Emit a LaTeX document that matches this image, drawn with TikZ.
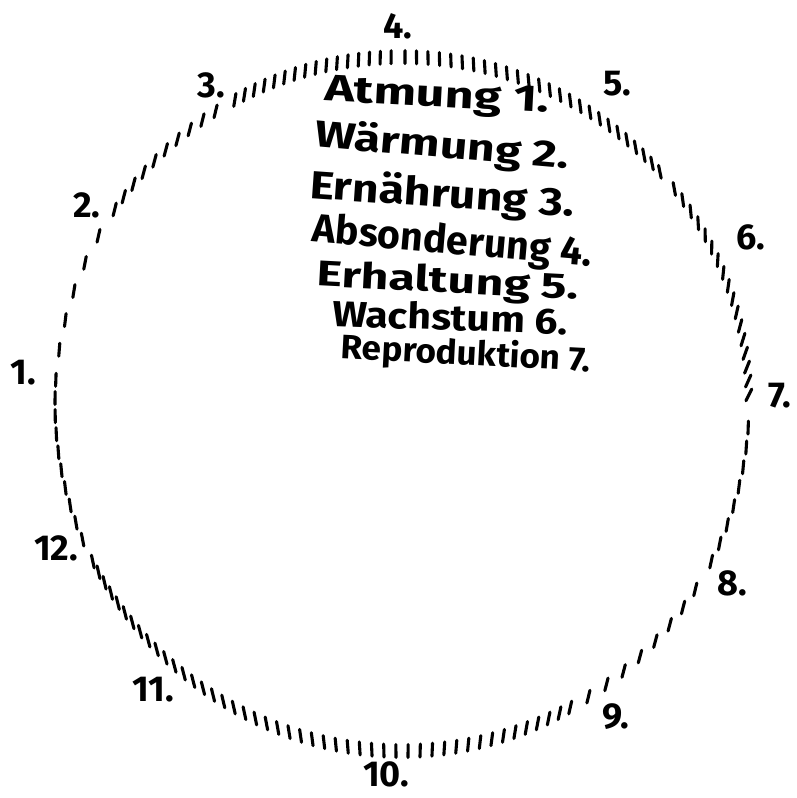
\documentclass[tikz,border=0pt]{standalone}
\usepackage{fontspec}
\usepackage{graphicx}
\setmainfont{Fira Sans}
% #1: list of angles, #2: stroke direction as a function of \a
\newcommand{\hatcharc}[2]{%
  \foreach \a in {#1} {%
    \pgfmathsetmacro\dd{#2}%
    \draw[tick] ({402+347*cos(\a)+6.5*cos(\dd)},{404-347*sin(\a)-6.5*sin(\dd)})
             -- ({402+347*cos(\a)-6.5*cos(\dd)},{404-347*sin(\a)+6.5*sin(\dd)});
  }}
\begin{document}
\begin{tikzpicture}[x=1pt,y=-1pt,
  tick/.style={line width=3.1pt,line cap=round,black},
  numlabel/.style={inner sep=0pt,font=\fontsize{36}{38}\selectfont\bfseries},
  listline/.style={inner sep=0pt,font=\bfseries}]
\path[use as bounding box] (0,0) rectangle (796,798);
% hatched circle, drawn as short strokes
\hatcharc{1.5,3.8,...,40}{\a+62}
\hatcharc{42,43.9,...,90}{102-12*(\a-40)/50}
\hatcharc{91.8,93.6,...,120}{90-10*(\a-90)/30}
\hatcharc{122.5,125.1,...,148}{90+15*sin(2*\a)}
\hatcharc{151,156,...,176}{90+15*sin(2*\a)}
\hatcharc{179,182,...,205}{90+15*sin(2*\a)}
\hatcharc{207,209,...,300}{90+15*sin(2*\a)}
\hatcharc{302.5,306.1,...,330}{90+15*sin(2*\a)}
\hatcharc{333,336.3,...,359}{90+15*sin(2*\a)}
% numbers round the circle
\node[numlabel] (n4) at (398,26) {4.};
\node[numlabel] (n5) at (617,84) {5.};
\node[numlabel] (n6) at (751,237) {6.};
\node[numlabel] (n7) at (780,396) {7.};
\node[numlabel] (n8) at (732,583) {8.};
\node[numlabel] (n9) at (616,717) {9.};
\node[numlabel] (n10) at (386,774) {10.};
\node[numlabel] (n11) at (153,690) {11.};
\node[numlabel] (n12) at (56,548) {12.};
\node[numlabel] (n1) at (23,373) {1.};
\node[numlabel] (n2) at (87,205) {2.};
\node[numlabel] (n3) at (211,85) {3.};
% list
\node[listline,rotate=-3] (l1) at (437,98) {\resizebox*{225pt}{34pt}{Atmung 1.}};
\node[listline,rotate=-5] (l2) at (442,147) {\resizebox*{255pt}{38pt}{Wärmung 2.}};
\node[listline,rotate=-4] (l3) at (442,196) {\resizebox*{265pt}{40pt}{Ernährung 3.}};
\node[listline,rotate=-5] (l4) at (452,243) {\resizebox*{280pt}{39pt}{Absonderung 4.}};
\node[listline,rotate=-3] (l5) at (448,283) {\resizebox*{262pt}{35pt}{Erhaltung 5.}};
\node[listline,rotate=-2] (l6) at (450,317) {\resizebox*{235pt}{28pt}{Wachstum 6.}};
\node[listline,rotate=-3] (l7) at (466,355) {\resizebox*{250pt}{35pt}{Reproduktion 7.}};
\end{tikzpicture}
\end{document}
